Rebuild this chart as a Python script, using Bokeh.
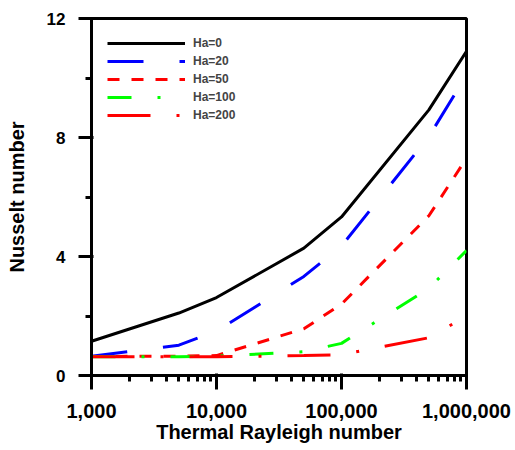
from bokeh.plotting import figure
from bokeh.models import Range1d, FixedTicker, NumeralTickFormatter
from bokeh.embed import file_html
from bokeh.resources import INLINE

ra = [1000, 5000, 10000, 50000, 100000, 500000, 1000000]
ha0 = [1.15, 2.1, 2.62, 4.28, 5.33, 8.93, 10.9]
ha20 = [0.65, 1.02, 1.49, 3.33, 4.35, 8.03, 10.1]
ha50 = [0.64, 0.65, 0.67, 1.57, 2.4, 5.37, 7.3]
ha100 = [0.63, 0.63, 0.65, 0.8, 1.08, 2.93, 4.2]
ha200 = [0.63, 0.63, 0.63, 0.67, 0.7, 1.27, 2.0]
x_major = [1000, 10000, 100000, 1000000]
x_minor = [m * 10 ** e for e in (3, 4, 5) for m in range(2, 10)]
y_major = [0, 4, 8, 12]
y_minor = [2, 6, 10]

FONT = "Liberation Sans"

p = figure(width=513, height=445, x_axis_type="log",
           x_range=Range1d(1000, 1000000), y_range=Range1d(0, 12),
           output_backend="svg", toolbar_location=None,
           min_border_left=91, min_border_right=47, min_border_top=18, min_border_bottom=67)

p.xgrid.visible = False
p.ygrid.visible = False
p.outline_line_color = "#000000"
p.outline_line_width = 3

series = [
    (ha0, "Ha=0", "black", "solid"),
    (ha20, "Ha=20", "#0000FF", "36 36"),
    (ha50, "Ha=50", "#FF0000", "12 12"),
    (ha100, "Ha=100", "#00FF00", "24 26 3 26"),
    (ha200, "Ha=200", "#FF0000", "43 26 3 26"),
]
for ys, lab, col, dash in series:
    p.line(ra, ys, line_color=col, line_width=3, line_dash=dash, legend_label=lab)

for ax in (p.xaxis[0], p.yaxis[0]):
    ax.axis_line_color = "#000000"
    ax.major_tick_line_color = "#000000"
    ax.minor_tick_line_color = "#000000"
    ax.axis_line_width = 3
    ax.major_tick_line_width = 3
    ax.minor_tick_line_width = 3
    ax.major_label_text_font = FONT
    ax.major_label_text_font_style = "bold"
    ax.major_label_text_color = "black"
    ax.axis_label_text_font = FONT
    ax.axis_label_text_font_style = "bold"
    ax.axis_label_text_color = "black"
    ax.axis_label_text_font_size = "20px"

xa = p.xaxis[0]
xa.ticker = FixedTicker(ticks=x_major, minor_ticks=x_minor)
xa.formatter = NumeralTickFormatter(format="0,0")
xa.major_tick_out = 14
xa.minor_tick_out = 6
xa.major_label_text_font_size = "20px"
xa.major_label_standoff = 14
xa.axis_label = "Thermal Rayleigh number"
xa.axis_label_standoff = 0

ya = p.yaxis[0]
ya.ticker = FixedTicker(ticks=y_major, minor_ticks=y_minor)
ya.major_tick_out = 13
ya.minor_tick_out = 6
ya.major_label_text_font_size = "17px"
ya.major_label_standoff = 13
ya.axis_label = "Nusselt number"
ya.axis_label_standoff = 16

lg = p.legend[0]
lg.location = "top_left"
lg.margin = 16
lg.padding = 0
lg.spacing = 0
lg.border_line_alpha = 0
lg.background_fill_alpha = 0
lg.glyph_width = 78
lg.glyph_height = 18
lg.label_height = 18
lg.label_standoff = 8
lg.label_text_font = FONT
lg.label_text_font_style = "bold"
lg.label_text_font_size = "12px"

open("out.html", "w").write(file_html(p, INLINE))
